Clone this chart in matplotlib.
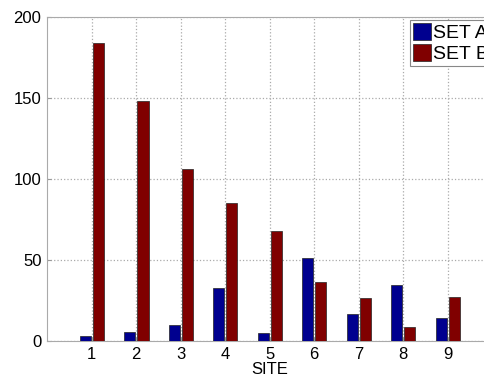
import matplotlib
matplotlib.use("Agg")
import matplotlib.pyplot as plt
import numpy as np

plt.rcParams['font.family'] = ['Liberation Sans', 'DejaVu Sans']

sites = [1, 2, 3, 4, 5, 6, 7, 8, 9]
set_a = [3, 5.5, 10, 33, 5, 51, 17, 34.5, 14]
set_b = [184, 148, 106, 85, 68, 36.5, 26.5, 8.5, 27.5]
labels = ['SET A', 'SET B']

fig = plt.figure(figsize=(4.85, 3.79), dpi=100)
ax = fig.add_axes([0.097, 0.1, 0.9175, 0.855])

x = np.array(sites)
w = 0.25
ax.bar(x - 0.14, set_a, w, color='#00008f', edgecolor='#222222', linewidth=0.5, label=labels[0], zorder=3)
ax.bar(x + 0.155, set_b, w, color='#800000', edgecolor='#222222', linewidth=0.5, label=labels[1], zorder=3)

ax.set_xlim(0, 10)
ax.set_ylim(0, 200)
ax.set_xticks(sites)
ax.set_yticks([0, 50, 100, 150, 200])
ax.tick_params(labelsize=12, direction='in', length=3, color='#999999', pad=4)
ax.set_xlabel('SITE', fontsize=12, labelpad=0)
ax.grid(True, linestyle=':', color='#aaaaaa', linewidth=0.9, zorder=0)
for s in ax.spines.values():
    s.set_color('#aaaaaa')

leg = ax.legend(loc='upper left', bbox_to_anchor=(410 / 485, 1 - 20 / 379),
                bbox_transform=fig.transFigure, fontsize=14, fancybox=False,
                framealpha=1, edgecolor='#888888', borderpad=0.15,
                handlelength=0.95, handleheight=0.95, handletextpad=0.1,
                labelspacing=0.1, borderaxespad=0)
leg.get_frame().set_linewidth(0.8)

fig.savefig('out.png', dpi=100)
